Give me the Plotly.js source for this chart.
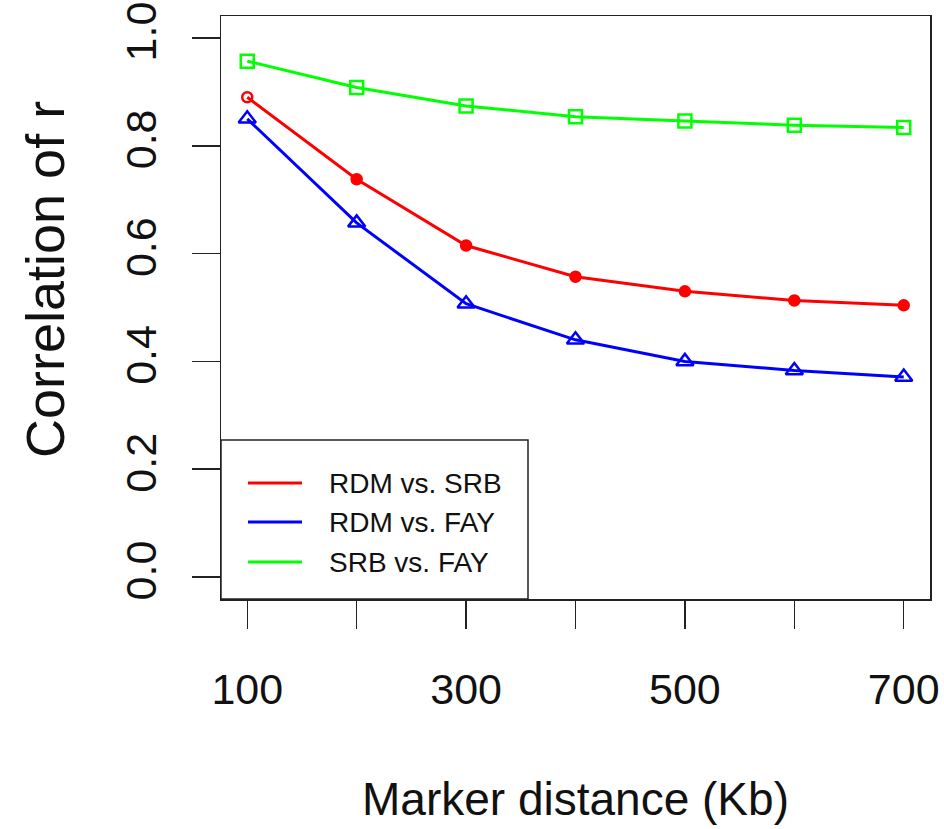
<!DOCTYPE html>
<html>
<head>
<meta charset="utf-8">
<script src="https://cdn.plot.ly/plotly-3.0.1.min.js"></script>
<style>body{margin:0;background:#fff;} #plot{width:944px;height:829px;}</style>
</head>
<body>
<div id="plot"></div>
<script>
// Data
const distances = [100, 200, 300, 400, 500, 600, 700];
const rdmVsSrb = [0.890, 0.738, 0.615, 0.557, 0.530, 0.513, 0.504];
const rdmVsFay = [0.850, 0.657, 0.507, 0.440, 0.400, 0.383, 0.371];
const srbVsFay = [0.957, 0.908, 0.874, 0.854, 0.846, 0.838, 0.834];
const seriesNames = ['RDM vs. SRB', 'RDM vs. FAY', 'SRB vs. FAY'];
const xTickVals = [100, 200, 300, 400, 500, 600, 700];
const xTickText = ['100', '', '300', '', '500', '', '700'];
const yTickVals = [0.0, 0.2, 0.4, 0.6, 0.8, 1.0];
const yTickText = ['0.0', '0.2', '0.4', '0.6', '0.8', '1.0'];
const xTitle = 'Marker distance (Kb)';
const yTitle = 'Correlation of r';

const colors = ['#FF0000', '#0000FF', '#00FF00'];
const symbols = [
  ['circle-open', 'circle', 'circle', 'circle', 'circle', 'circle', 'circle'],
  'triangle-up-open',
  'square-open'
];
const sizes = [10, 15, 13];
const series = [rdmVsSrb, rdmVsFay, srbVsFay];

const font = "Arial, 'Liberation Sans', sans-serif";
const traces = [];
series.forEach((ys, i) => {
  traces.push({
    x: distances, y: ys, type: 'scatter', mode: 'lines+markers',
    name: seriesNames[i], line: {color: colors[i], width: 3},
    marker: {symbol: symbols[i], color: colors[i], size: sizes[i], line: {color: colors[i], width: 2.5}},
    showlegend: false, hoverinfo: 'skip'
  });
});

// Legend box drawn as in the R figure (line samples + labels)
const plotW = 944 - 221 - 14, plotH = 829 - 16 - 230;
const px = v => v / plotW, py = v => v / plotH;
const legendRows = [116, 77, 37]; // px above plot bottom for each row
const shapes = [{
  type: 'rect', xref: 'paper', yref: 'paper',
  x0: 0, x1: px(307), y0: 0, y1: py(159),
  line: {color: '#222', width: 1.5}, fillcolor: '#fff', layer: 'above'
}];
const annotations = [];
seriesNames.forEach((nm, i) => {
  shapes.push({
    type: 'line', xref: 'paper', yref: 'paper',
    x0: px(27), x1: px(81), y0: py(legendRows[i]), y1: py(legendRows[i]),
    line: {color: colors[i], width: 3}, layer: 'above'
  });
  annotations.push({
    xref: 'paper', yref: 'paper', x: px(106), y: py(legendRows[i]),
    xanchor: 'left', yanchor: 'middle', showarrow: false, text: nm,
    font: {family: font, size: 28, color: '#111'}
  });
});
// y-axis title
annotations.push({
  xref: 'paper', yref: 'paper', x: px(45 - 221), y: py(599 - 280),
  xanchor: 'center', yanchor: 'middle', showarrow: false, textangle: -90,
  text: yTitle, font: {family: font, size: 54, color: '#111'}
});

const axisCommon = {
  showgrid: false, zeroline: false, showline: true, mirror: true,
  linecolor: '#222', linewidth: 1.5,
  ticks: 'outside', ticklen: 28, tickwidth: 1.5, tickcolor: '#222',
  tickfont: {family: font, size: 43, color: '#111'}
};

const layout = {
  width: 944, height: 829,
  margin: {l: 221, r: 14, t: 16, b: 230},
  paper_bgcolor: '#fff', plot_bgcolor: '#fff',
  font: {family: font, color: '#111'},
  showlegend: false,
  xaxis: Object.assign({}, axisCommon, {
    range: [76, 724], tickmode: 'array', tickvals: xTickVals, ticktext: xTickText,
    ticklabelstandoff: 24,
    title: {text: xTitle, font: {family: font, size: 46, color: '#111'}, standoff: 70}
  }),
  yaxis: Object.assign({}, axisCommon, {
    range: [-0.0408, 1.0408], tickmode: 'array', tickvals: yTickVals, ticktext: yTickText,
    tickangle: -90, ticklabelstandoff: 18
  }),
  shapes: shapes,
  annotations: annotations
};

Plotly.newPlot('plot', traces, layout, {displayModeBar: false, staticPlot: true});
</script>
</body>
</html>
